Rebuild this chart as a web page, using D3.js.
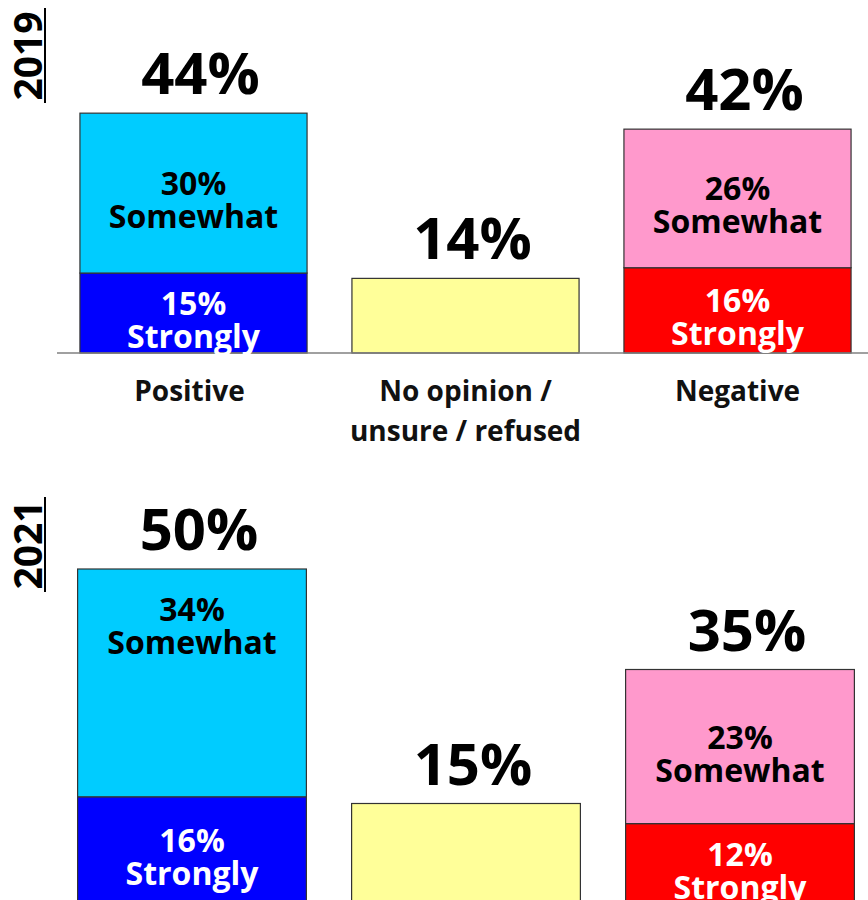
<!DOCTYPE html>
<html>
<head>
<meta charset="utf-8">
<script src="https://cdn.jsdelivr.net/npm/d3@7"></script>
<style>
  body { margin: 0; background: #fff; }
  svg { display: block; font-family: "Open Sans", sans-serif; font-weight: 700; }
</style>
</head>
<body>
<svg id="graph" width="868" height="900"></svg>
<script>
// Données (2019, 2021)
const annees = ["2019", "2021"];
const categories = ["Positive", "No opinion / unsure / refused", "Negative"];
const categorieLignes = [["Positive"], ["No opinion /", "unsure / refused"], ["Negative"]];
const positifFortement = [15, 16];
const positifPlutot = [30, 34];
const sansOpinion = [14, 15];
const negatifFortement = [16, 12];
const negatifPlutot = [26, 23];
const totalPositif = [44, 50];
const totalNegatif = [42, 35];

const couleurs = {
  positifFortement: "#0000FF",
  positifPlutot: "#00CCFF",
  sansOpinion: "#FFFF99",
  negatifFortement: "#FF0000",
  negatifPlutot: "#FF99CC"
};

// Mise en page de chaque panneau
const panneaux = [
  { base: 353, pxParPct: 5.33, xRange: [57.5, 873.5], annee: { x: 42, y: 56, y1: 8, y2: 103 }, axe: [57, 868] },
  { base: 904, pxParPct: 6.7, xRange: [55, 877], annee: { x: 42, y: 545, y1: 497, y2: 592 }, axe: [55, 868] }
];

const svg = d3.select("#graph");

panneaux.forEach((p, i) => {
  const g = svg.append("g");

  const x = d3.scaleBand()
    .domain(categories)
    .range(p.xRange)
    .paddingInner(0.165)
    .paddingOuter(0.0825);

  const y = d3.scaleLinear()
    .domain([0, 100])
    .range([p.base, p.base - 100 * p.pxParPct]);

  // Segments empilés
  const segments = [
    { cat: categories[0], bas: 0, val: positifFortement[i], couleur: couleurs.positifFortement, texte: "Strongly", blanc: true },
    { cat: categories[0], bas: positifFortement[i], val: positifPlutot[i], couleur: couleurs.positifPlutot, texte: "Somewhat", blanc: false },
    { cat: categories[1], bas: 0, val: sansOpinion[i], couleur: couleurs.sansOpinion, texte: null },
    { cat: categories[2], bas: 0, val: negatifFortement[i], couleur: couleurs.negatifFortement, texte: "Strongly", blanc: true },
    { cat: categories[2], bas: negatifFortement[i], val: negatifPlutot[i], couleur: couleurs.negatifPlutot, texte: "Somewhat", blanc: false }
  ];

  g.selectAll("rect")
    .data(segments)
    .enter().append("rect")
    .attr("x", d => x(d.cat))
    .attr("width", x.bandwidth())
    .attr("y", d => y(d.bas + d.val))
    .attr("height", d => y(d.bas) - y(d.bas + d.val))
    .attr("fill", d => d.couleur)
    .attr("stroke", "#333")
    .attr("stroke-width", 1.2);

  // Ligne de base
  g.append("line")
    .attr("x1", p.axe[0]).attr("x2", p.axe[1])
    .attr("y1", p.base).attr("y2", p.base)
    .attr("stroke", "#808080")
    .attr("stroke-width", 1.5);

  // Étiquettes à l'intérieur des segments
  segments.filter(d => d.texte).forEach(d => {
    const haut = y(d.bas + d.val);
    const bas = y(d.bas);
    const centre = (haut + bas) / 2;
    const y1 = (bas - haut) > 200 ? haut + 52 : centre + 2;
    const t = g.append("text")
      .attr("text-anchor", "middle")
      .attr("fill", d.blanc ? "#fff" : "#000")
      .attr("font-size", 32);
    t.append("tspan")
      .attr("x", x(d.cat) + x.bandwidth() / 2)
      .attr("y", y1)
      .text(d.val + "%");
    t.append("tspan")
      .attr("x", x(d.cat) + x.bandwidth() / 2)
      .attr("y", y1 + 33)
      .text(d.texte);
  });

  // Totaux au-dessus des barres
  const totaux = [
    { cat: categories[0], val: totalPositif[i], haut: positifFortement[i] + positifPlutot[i] },
    { cat: categories[1], val: sansOpinion[i], haut: sansOpinion[i] },
    { cat: categories[2], val: totalNegatif[i], haut: negatifFortement[i] + negatifPlutot[i] }
  ];

  g.selectAll(".total")
    .data(totaux)
    .enter().append("text")
    .attr("class", "total")
    .attr("x", d => x(d.cat) + x.bandwidth() / 2 + 7)
    .attr("y", d => y(d.haut) - 19)
    .attr("text-anchor", "middle")
    .attr("font-size", 58)
    .attr("fill", "#000")
    .text(d => d.val + "%");

  // Catégories sous l'axe (seulement le premier panneau est visible)
  if (i === 0) {
    categories.forEach((c, k) => {
      const t = g.append("text")
        .attr("text-anchor", "middle")
        .attr("font-size", 28)
        .attr("fill", "#111");
      categorieLignes[k].forEach((ligne, j) => {
        t.append("tspan")
          .attr("x", x(c) + x.bandwidth() / 2 - (k === 0 ? 4 : 0))
          .attr("y", p.base + 48 + j * 40)
          .text(ligne);
      });
    });
  }

  // Année en vertical, soulignée
  g.append("text")
    .attr("transform", `translate(${p.annee.x},${p.annee.y}) rotate(-90)`)
    .attr("text-anchor", "middle")
    .attr("font-size", 39)
    .attr("fill", "#000")
    .text(annees[i]);

  g.append("line")
    .attr("x1", p.annee.x + 3).attr("x2", p.annee.x + 3)
    .attr("y1", p.annee.y1).attr("y2", p.annee.y2)
    .attr("stroke", "#000")
    .attr("stroke-width", 2);
});
</script>
</body>
</html>
